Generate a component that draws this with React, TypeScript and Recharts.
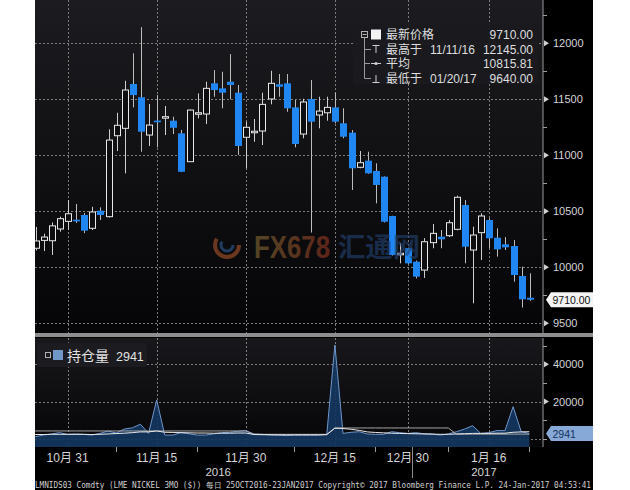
import { Area, Bar, ComposedChart, Line, ReferenceLine, XAxis, YAxis } from "recharts";

// LME nickel 3M, daily, 25 Oct 2016 - 23 Jan 2017
const tradeDates = [
  "10/25", "10/26", "10/27", "10/28", "10/31",
  "11/01", "11/02", "11/03", "11/04", "11/07", "11/08", "11/09", "11/10", "11/11", "11/14", "11/15",
  "11/16", "11/17", "11/18", "11/21", "11/22", "11/23", "11/24", "11/25", "11/28", "11/29", "11/30",
  "12/01", "12/02", "12/05", "12/06", "12/07", "12/08", "12/09", "12/12", "12/13", "12/14", "12/15",
  "12/16", "12/19", "12/20", "12/21", "12/22", "12/23", "12/28", "12/29", "12/30",
  "01/03", "01/04", "01/05", "01/06", "01/09", "01/10", "01/11", "01/12", "01/13", "01/16",
  "01/17", "01/18", "01/19", "01/20", "01/23",
];

const opens = [
  10170, 10240, 10237, 10342, 10410, 10425, 10467, 10348, 10505, 10452,
  11175, 11241, 11637, 11518, 11181, 11310, 11335, 11309, 11196, 10943,
  11370, 11369, 11643, 11598, 11657, 11559, 11161, 11205, 11217, 11503,
  11634, 11643, 11428, 11190, 11503, 11360, 11380, 11428, 11286, 11202,
  10893, 10952, 10860, 10809, 10458, 10115, 10170, 10050, 9975, 10220,
  10273, 10282, 10339, 10556, 10154, 10309, 10422, 10264, 10205, 10190,
  9922, 9728,
];
const highs = [
  10360, 10300, 10400, 10452, 10600, 10565, 10485, 10540, 10535, 11232,
  11380, 11666, 11911, 12145, 11458, 11538, 11440, 11345, 11226, 11410,
  11553, 11657, 11761, 11746, 11904, 11628, 11300, 11324, 11559, 11755,
  11726, 11726, 11494, 11505, 11672, 11523, 11523, 11559, 11420, 11226,
  11038, 11032, 10928, 10812, 10460, 10214, 10175, 10060, 10260, 10386,
  10333, 10422, 10640, 10600, 10362, 10482, 10437, 10348, 10270, 10243,
  10005, 9946,
];
const lows = [
  10150, 10145, 10110, 10318, 10333, 10395, 10305, 10333, 10422, 10445,
  11038, 10839, 11428, 11032, 11083, 11071, 11181, 11190, 10850, 10940,
  11330, 11279, 11523, 11420, 11500, 11003, 10884, 11121, 11092, 11455,
  11523, 11389, 11071, 11152, 10310, 11241, 11309, 11285, 11152, 10690,
  10884, 10835, 10571, 10400, 10105, 10035, 10030, 9900, 9905, 10170,
  10170, 10270, 10330, 10035, 9678, 10065, 10170, 10095, 10154, 9871,
  9640, 9700,
];
const closes = [
  10235, 10270, 10370, 10434, 10478, 10410, 10327, 10494, 10467, 11136,
  11268, 11583, 11538, 11211, 11270, 11295, 11345, 11246, 10853, 11404,
  11380, 11598, 11583, 11559, 11628, 11083, 11250, 11215, 11455, 11643,
  11612, 11420, 11101, 11476, 11300, 11395, 11428, 11300, 11166, 10884,
  10934, 10839, 10735, 10407, 10110, 10125, 10035, 9916, 10228, 10303,
  10250, 10398, 10625, 10184, 10288, 10458, 10259, 10160, 10178, 9931,
  9714, 9710,
];

// 持仓量 (blue area) and the two companion lines of the lower panel
const openInterest = [
  1200, 2100, 2700, 3400, 2500, 2700, 2500, 2100, 3000, 4300,
  3200, 5300, 6000, 7900, 3000, 20900, 2100, 2100, 3400, 2800,
  2100, 2100, 2700, 3400, 3600, 4100, 4500, 2700, 2500, 2100,
  2100, 1800, 2100, 2100, 2100, 2100, 2500, 50300, 3000, 3600,
  3900, 2700, 2500, 2500, 3900, 3400, 3000, 3400, 2800, 2700,
  2100, 2700, 3900, 5300, 7100, 3000, 3400, 4500, 4500, 17300,
  3900, 2941,
];
const oiAverage = [
  2400, 2400, 2500, 2500, 2500, 2500, 2500, 2400, 2500, 2700,
  2900, 3100, 3400, 3800, 3800, 4300, 3600, 3500, 3400, 3300,
  3200, 3200, 3100, 3100, 3100, 3200, 3200, 2400, 2300, 2300,
  2200, 2200, 2200, 2200, 2200, 2200, 2300, 5800, 5600, 5200,
  4600, 3800, 3500, 3300, 3100, 3000, 2900, 2800, 2700, 2600,
  2500, 2500, 2700, 2800, 3000, 3000, 3000, 3100, 3100, 3600,
  3800, 3900,
];
const oiReference = [
  4300, 4300, 4300, 4300, 4300, 4300, 4300, 4300, 4300, 4300,
  4300, 4300, 4300, 4300, 4300, 4300, 4300, 4300, 4300, 4300,
  4300, 4300, 4300, 4300, 4300, 4300, 4300, 2500, 2500, 2500,
  2500, 2500, 2500, 2500, 2500, 2500, 2500, 5900, 5900, 5900,
  5900, 5900, 5900, 5900, 5900, 5900, 5900, 5900, 5900, 5900,
  5900, 5900, 2600, 2600, 2600, 2600, 2600, 2600, 2600, 2600,
  2600, 2600,
];

const priceTicks = [9500, 9750, 10000, 10250, 10500, 10750, 11000, 11250, 11500, 11750, 12000, 12250];
const priceLabels = [9500, 10000, 10500, 11000, 11500, 12000];
const oiTicks = [0, 10000, 20000, 30000, 40000, 50000];
const oiLabels = [20000, 40000];
const oiGrid = [0, 20000, 40000];

// x positions are trading-day indexes
const dateTicks = [4, 15, 26, 37, 46, 56];
const dateTickLabels = ["10月 31", "11月 15", "11月 30", "12月 15", "12月 30", "1月 16"];
const dateMinorTicks = [10, 20, 32, 42, 51, 61];
const yearTicks = [22.6, 55.4];
const yearLabels = ["2016", "2017"];
const yearBreak = 46.5;

const legendRows = [
  { label: "最新价格", date: "", value: "9710.00" },
  { label: "最高于", date: "11/11/16", value: "12145.00" },
  { label: "平均", date: "", value: "10815.81" },
  { label: "最低于", date: "01/20/17", value: "9640.00" },
];
const oiLegendLabel = "持仓量";
const footerText =
  "LMNIDS03 Comdty (LME NICKEL   3MO ($))  每日 25OCT2016-23JAN2017 Copyright© 2017 Bloomberg Finance L.P. 24-Jan-2017 04:53:41";

const X_DOMAIN: [number, number] = [-0.02, 62.69];
const PRICE_DOMAIN: [number, number] = [9413, 12387];
const OI_DOMAIN: [number, number] = [-4280, 54035];

// panel geometry (page pixels)
const PLOT_X = 35;
const PLOT_W = 508;
const TOP_H = 333;
const BOTTOM_Y = 338;
const BOTTOM_H = 109;

const LATIN = "'Liberation Sans', Arial, sans-serif";
const CJK = "'Noto Sans CJK SC', sans-serif";
const MONO = "'DejaVu Sans Mono', 'Liberation Mono', monospace";
const BLUE = "#1f86f2";
const AXIS_TEXT = "#d4d4d4";
const GRID = "#7c7c7c";

const snap = (v: number) => Math.round(v) + 0.5;
// same linear mappings the chart axes use, for the backdrop grid
const xOf = (i: number) => PLOT_X + ((i - X_DOMAIN[0]) / (X_DOMAIN[1] - X_DOMAIN[0])) * PLOT_W;
const yPrice = (v: number) => ((PRICE_DOMAIN[1] - v) / (PRICE_DOMAIN[1] - PRICE_DOMAIN[0])) * TOP_H;
const yOi = (v: number) => BOTTOM_Y + ((OI_DOMAIN[1] - v) / (OI_DOMAIN[1] - OI_DOMAIN[0])) * BOTTOM_H;

function Candle(props: any) {
  const { x, y, width, height, payload } = props;
  if (x == null || !payload || !(height > 0)) return null;
  const { open, close, high, low } = payload;
  const k = height / (high - low);
  const py = (v: number) => y + (high - v) * k;
  const cx = Math.round(x + width / 2) + 0.5;
  const top = py(Math.max(open, close));
  const bodyH = Math.max(py(Math.min(open, close)) - top, 1.5);
  if (close >= open) {
    return (
      <g>
        <line x1={cx} x2={cx} y1={y} y2={top} stroke="#cfcfcf" />
        <line x1={cx} x2={cx} y1={top + bodyH} y2={y + height} stroke="#cfcfcf" />
        <rect x={cx - 3} y={top} width={6} height={bodyH} fill="#0e0e11" stroke="#e8e8e8" />
      </g>
    );
  }
  return (
    <g>
      <line x1={cx} x2={cx} y1={y} y2={y + height} stroke="#bcbcbc" />
      <rect x={cx - 3.5} y={top} width={7} height={bodyH} fill={BLUE} />
    </g>
  );
}

// right-hand value axis: arrow + label for majors, short dash for minors
function RightTick(props: any) {
  const { x, y, payload, labels } = props;
  const v = payload.value;
  if (!labels.includes(v)) return <rect x={x} y={Math.round(y)} width={4} height={1} fill="#a0a0a0" />;
  return (
    <g>
      <path d={`M${x + 1} ${y - 3}L${x + 6} ${y}L${x + 1} ${y + 3}Z`} fill="#d0d0d0" />
      <text x={x + 10} y={y + 4} fontSize={11} fontFamily={LATIN} fill={AXIS_TEXT}>
        {v}
      </text>
    </g>
  );
}

function DateTick(props: any) {
  const { x, y, payload } = props;
  const idx = dateTicks.indexOf(payload.value);
  if (idx < 0) return null;
  const [m, d] = dateTickLabels[idx].split("月");
  return (
    <text x={x} y={y + 15} textAnchor="middle" fontSize={12} fontFamily={LATIN} fill={AXIS_TEXT}>
      {m}
      <tspan fontFamily={CJK} fontSize={12}>月</tspan>
      {d}
    </text>
  );
}

function YearTick(props: any) {
  const { x, y, payload } = props;
  return (
    <text x={x} y={y + 14} textAnchor="middle" fontSize={11.5} fontFamily={LATIN} fill={AXIS_TEXT}>
      {yearLabels[yearTicks.indexOf(payload.value)]}
    </text>
  );
}

function flagLabel(text: string, fill: string, color: string) {
  return (props: any) => {
    const vb = props.viewBox ?? props;
    const x = vb.x + vb.width;
    const y = vb.y;
    return (
      <g>
        <path d={`M${x + 3} ${y}L${x + 8} ${y - 7.5}H${x + 50}V${y + 7.5}H${x + 8}Z`} fill={fill} />
        <text x={x + 9.5} y={y + 4} fontSize={10.5} fontFamily={LATIN} fill={color}>
          {text}
        </text>
      </g>
    );
  };
}

function Backdrop() {
  const dash = { stroke: GRID, strokeWidth: 1, strokeDasharray: "2 2" };
  return (
    <svg width={630} height={490} style={{ position: "absolute", left: 0, top: 0 }}>
      <defs>
        <linearGradient id="topBg" x1="0" y1="0" x2="0" y2="1">
          <stop offset="0%" stopColor="#1c1c20" />
          <stop offset="100%" stopColor="#050507" />
        </linearGradient>
        <linearGradient id="botBg" x1="0" y1="0" x2="0" y2="1">
          <stop offset="0%" stopColor="#18181c" />
          <stop offset="100%" stopColor="#060608" />
        </linearGradient>
      </defs>
      <rect width={630} height={490} fill="#ffffff" />
      <rect x={PLOT_X} y={0} width={558} height={490} fill="#000000" />
      <rect x={PLOT_X} y={0} width={PLOT_W} height={TOP_H} fill="url(#topBg)" />
      <rect x={PLOT_X} y={BOTTOM_Y} width={PLOT_W} height={BOTTOM_H} fill="url(#botBg)" />
      <rect x={PLOT_X} y={333} width={558} height={4} fill="#8e8e8e" />

      {/* dotted grid */}
      {priceLabels.map((v) => (
        <line key={`p${v}`} x1={PLOT_X} x2={PLOT_X + PLOT_W} y1={snap(yPrice(v))} y2={snap(yPrice(v))} {...dash} />
      ))}
      {dateTicks.map((i) => (
        <line key={`t${i}`} x1={snap(xOf(i))} x2={snap(xOf(i))} y1={0} y2={TOP_H} {...dash} />
      ))}
      {oiGrid.map((v) => (
        <line key={`o${v}`} x1={PLOT_X} x2={PLOT_X + PLOT_W} y1={snap(yOi(v))} y2={snap(yOi(v))} {...dash} />
      ))}
      {dateTicks.map((i) => (
        <line key={`b${i}`} x1={snap(xOf(i))} x2={snap(xOf(i))} y1={BOTTOM_Y} y2={BOTTOM_Y + BOTTOM_H} {...dash} />
      ))}

      {/* date axis small ticks and the year break */}
      {dateMinorTicks.map((i) => (
        <line key={`m${i}`} x1={snap(xOf(i))} x2={snap(xOf(i))} y1={447} y2={452} stroke="#9a9a9a" />
      ))}
      <line x1={snap(xOf(yearBreak))} x2={snap(xOf(yearBreak))} y1={447} y2={478} stroke="#8a8a8a" />
    </svg>
  );
}

function Overlay() {
  const last = openInterest[openInterest.length - 1];
  return (
    <svg width={630} height={490} style={{ position: "absolute", left: 0, top: 0, pointerEvents: "none" }}>
      <defs>
        <linearGradient id="fxText" x1="0" y1="0" x2="1" y2="0">
          <stop offset="0%" stopColor="#7e6a33" />
          <stop offset="100%" stopColor="#923521" />
        </linearGradient>
      </defs>
      {/* watermark */}
      <g opacity={0.62}>
        <circle cx={227} cy={245} r={12} fill="none" stroke="#a8532b" strokeWidth={4} strokeDasharray="44 32" />
        <circle cx={227} cy={245} r={6} fill="none" stroke="#2d5b94" strokeWidth={3} strokeDasharray="22 16" />
        <text x={254} y={258} fontSize={31} fontWeight="bold" fontFamily={LATIN} fill="url(#fxText)" textLength={76} lengthAdjust="spacingAndGlyphs">
          FX678
        </text>
        <text x={338} y={257} fontSize={27} fontWeight="bold" fontFamily={CJK} fill="#22416f" textLength={82} lengthAdjust="spacingAndGlyphs">
          汇通网
        </text>
      </g>

      {/* price legend */}
      <rect x={353} y={22} width={185} height={62} rx={3} fill="#1b1b1f" opacity={0.94} />
      <path d="M364.5 38V78.5M364.5 49.5H371M364.5 63.5H370M364.5 78.5H371" stroke="#9a9a9a" fill="none" />
      <rect x={361.5} y={31.5} width={6} height={6} fill="#1b1b1f" stroke="#b0b0b0" />
      <line x1={362.5} x2={366.5} y1={34.5} y2={34.5} stroke="#b0b0b0" />
      <rect x={371} y={29.5} width={10} height={10} fill="#f2f2f2" />
      <path d="M372.5 45.5H379.5M376 45.5V53" stroke="#cfcfcf" fill="none" />
      <path d="M371 63.5H381" stroke="#cfcfcf" />
      <circle cx={376} cy={63.5} r={1.6} fill="#cfcfcf" />
      <path d="M372.5 82.5H379.5M376 75V82.5" stroke="#cfcfcf" fill="none" />
      {legendRows.map((row, i) => {
        const y = 39 + i * 14.6;
        return (
          <g key={row.label}>
            <text x={386} y={y} fontSize={12} fontFamily={CJK} fill="#dedede">
              {row.label}
            </text>
            {row.date ? (
              <text x={430} y={y} fontSize={12} fontFamily={LATIN} fill="#dedede">
                {row.date}
              </text>
            ) : null}
            <text x={533} y={y} textAnchor="end" fontSize={12} fontFamily={LATIN} fill="#dedede">
              {row.value}
            </text>
          </g>
        );
      })}

      {/* open interest legend */}
      <rect x={37} y={343} width={110} height={24} rx={2} fill="#1c1c20" />
      <rect x={45.5} y={352.5} width={5} height={5} fill="none" stroke="#b0b0b0" />
      <rect x={53} y={350} width={10} height={10} fill="#7196c8" />
      <text x={67} y={360.5} fontSize={14} fontFamily={CJK} fill="#e2e2e2">
        {oiLegendLabel}
      </text>
      <text x={116} y={360.5} fontSize={12.5} fontFamily={LATIN} fill="#e2e2e2">
        {last}
      </text>

      {/* footer */}
      <text x={35} y={488} fontSize={8} fontFamily={MONO} fill="#cfcfcf" textLength={556} lengthAdjust="spacingAndGlyphs">
        {footerText}
      </text>
    </svg>
  );
}

export default function App() {
  const candles = opens.map((o, i) => ({
    i,
    date: tradeDates[i],
    open: o,
    high: highs[i],
    low: lows[i],
    close: closes[i],
  }));
  const oiRows = openInterest.map((v, i) => ({
    i,
    date: tradeDates[i],
    oi: v,
    avg: oiAverage[i],
    ref: oiReference[i],
  }));
  const lastClose = closes[closes.length - 1];
  const lastOi = openInterest[openInterest.length - 1];

  return (
    <div style={{ position: "absolute", left: 0, top: 0, width: 630, height: 490, overflow: "hidden" }}>
      <Backdrop />

      <div style={{ position: "absolute", left: PLOT_X, top: 0 }}>
        <ComposedChart width={558} height={TOP_H} data={candles} margin={{ top: 0, right: 0, bottom: 0, left: 0 }}>
          <XAxis type="number" dataKey="i" domain={X_DOMAIN} allowDataOverflow hide />
          <YAxis
            orientation="right"
            width={50}
            domain={PRICE_DOMAIN}
            allowDataOverflow
            ticks={priceTicks}
            interval={0}
            tick={<RightTick labels={priceLabels} />}
            tickLine={false}
            tickSize={0}
            tickMargin={0}
            axisLine={{ stroke: "#9a9a9a" }}
          />
          <Bar
            dataKey={(d: any) => [d.low, d.high]}
            barSize={7}
            shape={(p: any) => <Candle {...p} />}
            isAnimationActive={false}
          />
          <ReferenceLine y={lastClose} stroke="none" label={flagLabel(lastClose.toFixed(2), "#f4f4f4", "#111")} />
        </ComposedChart>
      </div>

      <div style={{ position: "absolute", left: PLOT_X, top: 337 }}>
        <ComposedChart width={558} height={153} data={oiRows} margin={{ top: 1, right: 0, bottom: 10, left: 0 }}>
          <XAxis
            type="number"
            dataKey="i"
            domain={X_DOMAIN}
            allowDataOverflow
            ticks={dateTicks}
            interval={0}
            tick={<DateTick />}
            tickLine={false}
            tickSize={0}
            tickMargin={0}
            axisLine={false}
            height={15}
          />
          <XAxis
            xAxisId="year"
            type="number"
            dataKey="i"
            domain={X_DOMAIN}
            allowDataOverflow
            ticks={yearTicks}
            interval={0}
            tick={<YearTick />}
            tickLine={false}
            tickSize={0}
            tickMargin={0}
            axisLine={false}
            height={18}
          />
          <YAxis
            orientation="right"
            width={50}
            domain={OI_DOMAIN}
            allowDataOverflow
            ticks={oiTicks}
            interval={0}
            tick={<RightTick labels={oiLabels} />}
            tickLine={false}
            tickSize={0}
            tickMargin={0}
            axisLine={{ stroke: "#9a9a9a" }}
          />
          <Area
            type="linear"
            dataKey="oi"
            baseValue={OI_DOMAIN[0]}
            fill="#15365f"
            fillOpacity={0.92}
            stroke="#6f95cb"
            strokeWidth={1}
            dot={false}
            isAnimationActive={false}
          />
          <Line type="linear" dataKey="ref" stroke="#a6a6a6" strokeWidth={1} dot={false} isAnimationActive={false} />
          <Line type="linear" dataKey="avg" stroke="#e8e8e8" strokeWidth={1} dot={false} isAnimationActive={false} />
          <ReferenceLine y={lastOi} stroke="none" label={flagLabel(String(lastOi), "#86a9d7", "#15325c")} />
        </ComposedChart>
      </div>

      <Overlay />
    </div>
  );
}
